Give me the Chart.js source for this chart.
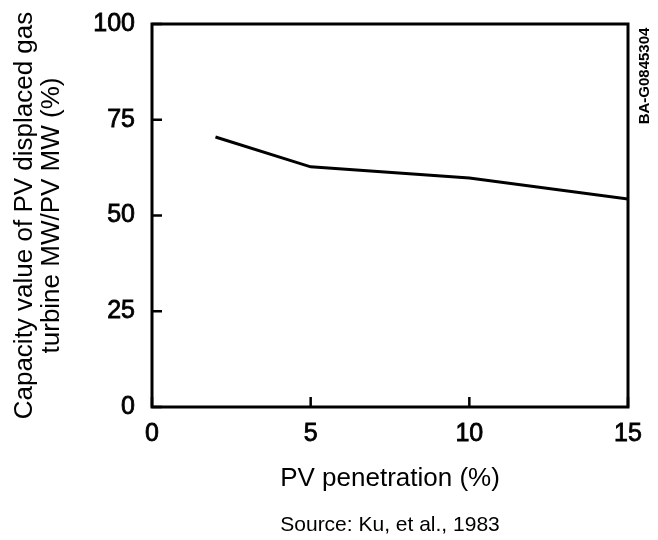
<!DOCTYPE html>
<html>
<head>
<meta charset="utf-8">
<script src="https://cdn.jsdelivr.net/npm/chart.js@4"></script>
<style>
  html, body { margin: 0; padding: 0; background: #fff; }
  #wrap { width: 658px; height: 540px; }
</style>
</head>
<body>
<div id="wrap"><canvas id="capChart" width="658" height="540"></canvas></div>
<script>
// valores
const penetration = [2, 5, 10, 15];
const capacityValue = [70.5, 62.7, 59.8, 54.3];
const xTicks = [0, 5, 10, 15];
const yTicks = [0, 25, 50, 75, 100];

const fontFamily = '"Liberation Sans", Arial, Helvetica, sans-serif';

// moldura, marcas de escala para dentro, código e fonte
const framePlugin = {
  id: 'frame',
  afterDraw(chart) {
    const ctx = chart.ctx;
    const a = chart.chartArea;
    const xs = chart.scales.x, ys = chart.scales.y;
    ctx.save();
    ctx.strokeStyle = '#000';
    ctx.lineWidth = 3;
    ctx.strokeRect(a.left, a.top, a.right - a.left, a.bottom - a.top);
    ctx.lineWidth = 2.5;
    xTicks.forEach(v => {
      const px = xs.getPixelForValue(v);
      ctx.beginPath(); ctx.moveTo(px, a.bottom); ctx.lineTo(px, a.bottom - 10); ctx.stroke();
    });
    yTicks.forEach(v => {
      const py = ys.getPixelForValue(v);
      ctx.beginPath(); ctx.moveTo(a.left, py); ctx.lineTo(a.left + 10, py); ctx.stroke();
    });
    ctx.fillStyle = '#000';
    ctx.textAlign = 'center';
    ctx.textBaseline = 'middle';
    // fonte dos dados
    ctx.font = '21px ' + fontFamily;
    ctx.fillText('Source: Ku, et al., 1983', (a.left + a.right) / 2, 525);
    // código da figura
    ctx.translate(645, 76);
    ctx.rotate(-Math.PI / 2);
    ctx.font = 'bold 15px ' + fontFamily;
    ctx.fillText('BA-G0845304', 0, 0);
    ctx.restore();
  }
};

const ctx = document.getElementById('capChart').getContext('2d');
const capChart = new Chart(ctx, {
  type: 'line',
  data: {
    datasets: [{
      data: penetration.map((x, i) => ({ x: x, y: capacityValue[i] })),
      borderColor: '#000',
      borderWidth: 3,
      pointRadius: 0,
      tension: 0,
      fill: false
    }]
  },
  options: {
    responsive: false,
    animation: false,
    layout: { padding: { top: 24, right: 30, left: 0, bottom: 0 } },
    plugins: {
      legend: { display: false },
      tooltip: { enabled: false }
    },
    scales: {
      x: {
        type: 'linear',
        min: 0, max: 15,
        afterBuildTicks: s => { s.ticks = xTicks.map(v => ({ value: v })); },
        afterFit: s => { s.height = 133; },
        grid: { display: false },
        border: { display: false },
        ticks: {
          color: '#000', padding: 4,
          textStrokeColor: '#000', textStrokeWidth: 0.8,
          font: { family: fontFamily, size: 25 }
        },
        title: {
          display: true,
          text: 'PV penetration (%)',
          color: '#000',
          font: { family: fontFamily, size: 26 },
          padding: { top: 0, bottom: 46 }
        }
      },
      y: {
        min: 0, max: 100,
        afterBuildTicks: s => { s.ticks = yTicks.map(v => ({ value: v })); },
        afterFit: s => { s.width = 152; },
        grid: { display: false },
        border: { display: false },
        ticks: {
          color: '#000', padding: 9,
          textStrokeColor: '#000', textStrokeWidth: 0.8,
          font: { family: fontFamily, size: 25 }
        },
        title: {
          display: true,
          text: ['Capacity value of PV displaced gas', 'turbine MW/PV MW (%)'],
          color: '#000',
          font: { family: fontFamily, size: 26, lineHeight: 1.05 },
          padding: { top: 11, bottom: 0 }
        }
      }
    }
  },
  plugins: [framePlugin]
});
</script>
</body>
</html>
